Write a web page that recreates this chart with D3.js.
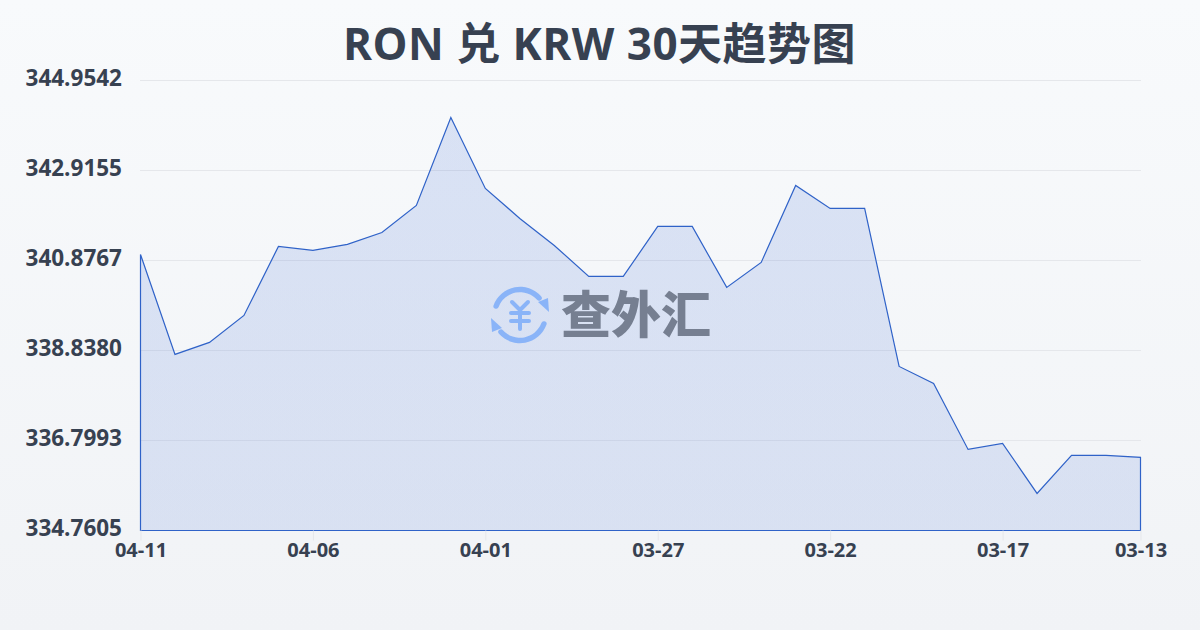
<!DOCTYPE html>
<html><head><meta charset="utf-8">
<script src="https://cdn.jsdelivr.net/npm/d3@7/dist/d3.min.js"></script>
<style>html,body{margin:0;padding:0;width:1200px;height:630px;overflow:hidden}svg{display:block}</style>
</head><body><svg id="c" width="1200" height="630"></svg>
<script>
const chartTitle = "RON 兑 KRW 30天趋势图";
const watermarkText = "查外汇";
const dates = ["04-11","04-10","04-09","04-08","04-07","04-06","04-05","04-04","04-03","04-02","04-01","03-31","03-30","03-29","03-28","03-27","03-26","03-25","03-24","03-23","03-22","03-21","03-20","03-19","03-18","03-17","03-16","03-15","03-14","03-13"];
const rates = [341.014,338.749,339.021,339.632,341.195,341.105,341.241,341.512,342.124,344.118,342.509,341.830,341.218,340.516,340.516,341.648,341.648,340.267,340.833,342.577,342.056,342.056,338.477,338.092,336.597,336.733,335.600,336.461,336.461,336.416];
const yTicks = [334.7605,336.7993,338.8380,340.8767,342.9155,344.9542];
const yTickLabels = ["334.7605","336.7993","338.8380","340.8767","342.9155","344.9542"];
const xTickLabels = ["04-11","04-06","04-01","03-27","03-22","03-17","03-13"];

const font = "'Open Sans','Noto Sans CJK SC',sans-serif";
const svg = d3.select("#c");
const defs = svg.append("defs");
const bg = defs.append("linearGradient").attr("id","bg").attr("x1",0).attr("y1",0).attr("x2",0).attr("y2",1);
bg.append("stop").attr("offset",0).attr("stop-color","#f8fafc");
bg.append("stop").attr("offset",1).attr("stop-color","#f1f3f6");
const ag = defs.append("linearGradient").attr("id","ag").attr("x1",0).attr("y1",0).attr("x2",0).attr("y2",1);
ag.append("stop").attr("offset",0).attr("stop-color","#3060d0").attr("stop-opacity",0.15);
ag.append("stop").attr("offset",1).attr("stop-color","#3060d0").attr("stop-opacity",0.13);
svg.append("rect").attr("width",1200).attr("height",630).attr("fill","url(#bg)");

const x = d3.scalePoint().domain(dates).range([140.5,1140.5]);
const y = d3.scaleLinear().domain([yTicks[0],yTicks[yTicks.length-1]]).range([530.5,80.5]);

svg.append("text").attr("x",599.5).attr("y",60).attr("text-anchor","middle")
  .attr("font-family",font).attr("font-weight",700).attr("font-size",44).attr("letter-spacing",0.5).attr("fill","#374151").text(chartTitle);

const yAxis = d3.axisLeft(y).tickValues(yTicks).tickSize(0).tickPadding(18).tickFormat((d,i)=>yTickLabels[i]);
const gy = svg.append("g").attr("transform","translate(140,-2)").call(yAxis);
gy.select(".domain").remove();
gy.selectAll("text").attr("font-family",font).attr("font-weight",700).attr("font-size",22.5).attr("fill","#374151");
svg.append("g").selectAll("line").data(yTicks.slice(1)).join("line")
  .attr("x1",140).attr("x2",1141).attr("y1",d=>y(d)).attr("y2",d=>y(d)).attr("stroke","#e5e7eb").attr("stroke-width",1);

const area = d3.area().x((d,i)=>x(dates[i])).y0(y(yTicks[0])).y1(d=>y(d));
svg.append("path").datum(rates).attr("d",area).attr("fill","url(#ag)").attr("stroke","#2f62c8").attr("stroke-width",1.2);

const xAxis = d3.axisBottom(x).tickValues(xTickLabels).tickSize(10).tickPadding(2);
const gx = svg.append("g").attr("transform","translate(0,530.5)").call(xAxis);
gx.select(".domain").remove();
gx.selectAll("line").attr("stroke","#e5e7eb");
gx.selectAll("text").attr("font-family",font).attr("font-weight",700).attr("font-size",20).attr("fill","#374151");

// watermark
const wm = svg.append("g");
const blue = "#8ab4f8";
const cx=520, cy=315, r=25.5;
const arc = d3.arc().innerRadius(r-2.7).outerRadius(r+2.7).cornerRadius(2.7);
wm.append("path").attr("transform",`translate(${cx},${cy})`).attr("fill",blue).attr("d",arc({startAngle:-1.32,endAngle:0.95}));
wm.append("path").attr("transform",`translate(${cx},${cy})`).attr("fill",blue).attr("d",arc({startAngle:1.82,endAngle:4.09}));
wm.append("polygon").attr("fill",blue).attr("points",`${cx+18},${cy-13} ${cx+28},${cy-17} ${cx+29},${cy-3}`);
wm.append("polygon").attr("fill",blue).attr("points",`${cx-18},${cy+13} ${cx-28},${cy+17} ${cx-29},${cy+3}`);
wm.append("path").attr("fill","none").attr("stroke",blue).attr("stroke-width",4).attr("stroke-linecap","round").attr("stroke-linejoin","round")
  .attr("d",`M${cx-8},${cy-13}L${cx},${cy-5}L${cx+8},${cy-13}M${cx-9},${cy-2}H${cx+9}M${cx-9},${cy+6}H${cx+9}M${cx},${cy-5}V${cy+14}`);
wm.append("text").attr("x",636).attr("y",333).attr("text-anchor","middle").attr("font-family","'Noto Sans CJK SC',sans-serif").attr("font-weight",900).attr("font-size",50).attr("fill","#767f91").text(watermarkText);
</script></body></html>
